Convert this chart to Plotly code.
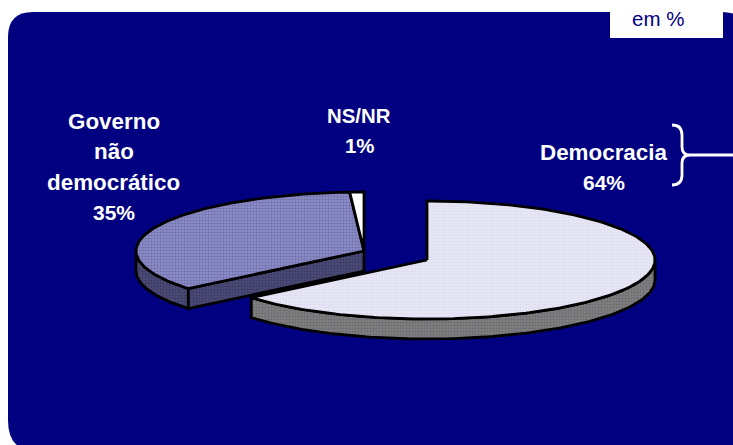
import numpy as np
import plotly.graph_objects as go

# Data
categories = ["Democracia", "Governo não democrático", "NS/NR"]
values = [64, 35, 1]
label_lines = {
    "Democracia": ["Democracia", "64%"],
    "NS/NR": ["NS/NR", "1%"],
    "Governo não democrático": ["Governo", "não", "democrático", "35%"],
}
unit_label = "em %"

# Pie geometry (pixels of the 733x445 page)
NAVY = "#000080"
RX, RY, DEPTH = 228, 59, 20
CENTER_MAIN = (427, 260)
CENTER_REST = (364, 251)
TOP_COLORS = {"Democracia": ("#E8E8F8", "#DCDCEC"), "NS/NR": ("#FFFFFF", "#FFFFFF"),
              "Governo não democrático": ("#8C8CC8", "#6E6EA8")}
SIDE_MAIN = ("#808080", "#6A6A72")
SIDE_REST = ("#4A4A78", "#3A3A60")

shares = dict(zip(categories, np.array(values, float) / sum(values) * 360))
a_dem = shares["Democracia"]
a_gov = a_dem + shares["Governo não democrático"]


def rim(c, a0, a1, dy=0):
    t = np.radians(np.linspace(a0, a1, max(int(abs(a1 - a0)), 2) + 1))
    return c[0] + RX * np.sin(t), c[1] - RY * np.cos(t) + dy


fig = go.Figure()


def poly(x, y, cols):
    fig.add_trace(go.Scatter(
        x=x, y=y, mode="lines", fill="toself", fillcolor=cols[0],
        fillpattern=dict(shape=".", fgcolor=cols[1], bgcolor=cols[0], size=3, solidity=0.4, fillmode="replace"),
        line=dict(color="black", width=2.8), hoverinfo="skip", showlegend=False))


def wedge(c, a0, a1, cols):
    x, y = rim(c, a0, a1)
    poly(np.r_[c[0], x, c[0]], np.r_[c[1], y, c[1]], cols)


def band(c, a0, a1, cols):
    x, y = rim(c, a0, a1)
    xb, yb = rim(c, a0, a1, DEPTH)
    poly(np.r_[x, xb[::-1], x[0]], np.r_[y, yb[::-1], y[0]], cols)


# rest of the pie: outer wall, cut wall, top faces
band(CENTER_REST, a_dem, 270, SIDE_REST)
xr, yr = rim(CENTER_REST, a_dem, a_dem)
xr0, yr0 = xr[0], yr[0]
poly([CENTER_REST[0], xr0, xr0, CENTER_REST[0], CENTER_REST[0]],
     [CENTER_REST[1], yr0, yr0 + DEPTH, CENTER_REST[1] + DEPTH, CENTER_REST[1]], SIDE_REST)
wedge(CENTER_REST, a_dem, a_gov, TOP_COLORS["Governo não democrático"])
wedge(CENTER_REST, a_gov, 360, TOP_COLORS["NS/NR"])

# exploded slice
band(CENTER_MAIN, 90, a_dem, SIDE_MAIN)
wedge(CENTER_MAIN, 0, a_dem, TOP_COLORS["Democracia"])

annotations = []
label_pos = {"Democracia": (604, 152, 30), "NS/NR": (359, 116, 30),
             "Governo não democrático": (113.5, 121, 30.5)}
line_size = {"Democracia": 22.4, "Governo": 22.4, "não": 22.4, "democrático": 22.4,
             "NS/NR": 20.4, "1%": 20.4}
for cat in categories:
    lx, ly, step = label_pos[cat]
    for i, line in enumerate(label_lines[cat]):
        annotations.append(dict(x=lx, y=ly + i * step, text=line, showarrow=False,
                                font=dict(family="Liberation Sans", size=line_size.get(line, 21),
                                          color="white", weight="bold"),
                                xanchor="center", yanchor="middle"))
annotations.append(dict(x=658, y=18, text=unit_label, showarrow=False,
                        font=dict(family="Liberation Sans", size=20.5, color=NAVY),
                        xanchor="center", yanchor="middle"))

shapes = [
    dict(type="path", layer="below", fillcolor=NAVY, line=dict(width=0),
         path="M 33 12 L 722 12 Q 745 12 760 37 L 760 450 L 33 450 Q 8 450 8 420 L 8 37 Q 8 12 33 12 Z"),
    dict(type="rect", layer="below", x0=610, x1=723, y0=0, y1=38, fillcolor="white", line=dict(width=0)),
    dict(type="path", line=dict(color="white", width=2.8),
         path="M 672 125 Q 682 125 682 135 L 682 147 Q 682 155 690 155 L 733 155 M 690 155 Q 682 155 682 163 L 682 175 Q 682 185 672 185"),
]

fig.update_layout(
    width=733, height=445, margin=dict(l=0, r=0, t=0, b=0),
    paper_bgcolor="white", plot_bgcolor="white", showlegend=False,
    xaxis=dict(range=[0, 733], visible=False, fixedrange=True),
    yaxis=dict(range=[445, 0], visible=False, fixedrange=True),
    shapes=shapes, annotations=annotations,
)
fig.write_html("out.html", config={"displayModeBar": False},
               post_script="document.body.style.margin='0';document.body.style.overflow='hidden';")
